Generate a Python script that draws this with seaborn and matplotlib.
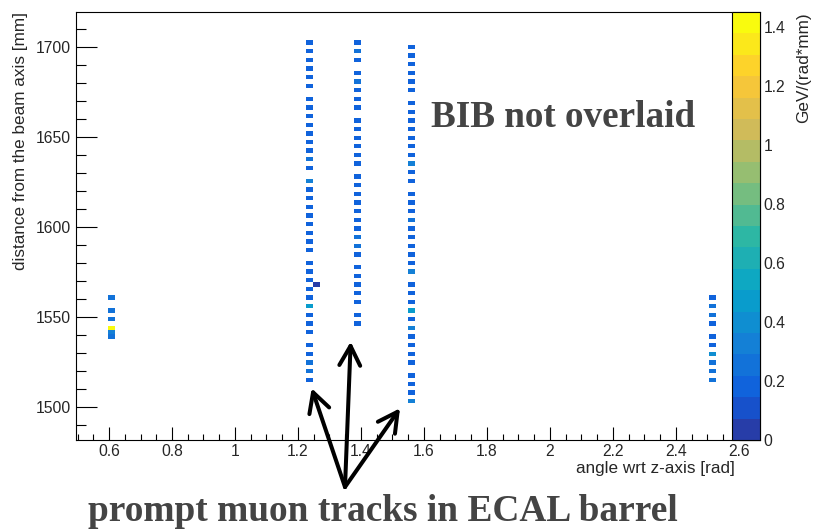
import numpy as np
import pandas as pd
import matplotlib
matplotlib.use("Agg")
import matplotlib.pyplot as plt
import seaborn as sns
from matplotlib.colors import LinearSegmentedColormap, ListedColormap
from matplotlib.patches import FancyArrowPatch, ArrowStyle
from matplotlib.ticker import MultipleLocator, FuncFormatter

# ---------------- data ----------------
colA_angle = 0.609
colA_r = [1560.8, 1553.6, 1548.8, 1544.0, 1541.6, 1539.2]
colA_e = [0.25, 0.22, 0.22, 1.42, 0.30, 0.25]

colB_angle = 1.238
colB_r = [1702.4, 1697.6, 1692.8, 1688.0, 1683.2, 1678.4,
          1671.2, 1666.4, 1661.6, 1656.8, 1652.0, 1647.2, 1642.4, 1637.6, 1632.8,
          1625.6, 1620.8, 1616.0, 1611.2, 1606.4, 1601.6, 1596.8, 1592.0, 1587.2,
          1580.0, 1575.2, 1570.4, 1565.6, 1560.8, 1556.0, 1551.2, 1546.4, 1541.6,
          1534.4, 1529.6, 1524.8, 1520.0, 1515.2]
colB_e = [0.19, 0.20, 0.19, 0.19, 0.18, 0.19,
          0.19, 0.19, 0.19, 0.19, 0.18, 0.19, 0.19, 0.28, 0.19,
          0.30, 0.19, 0.19, 0.19, 0.19, 0.19, 0.19, 0.19, 0.19,
          0.19, 0.19, 0.19, 0.18, 0.19, 0.50, 0.19, 0.19, 0.19,
          0.19, 0.19, 0.27, 0.27, 0.19]

colB2_angle = 1.260
colB2_r = [1568.0]
colB2_e = [0.06]

colC_angle = 1.386
colC_r = [1702.4, 1697.6, 1692.8,
          1685.6, 1680.8, 1676.0, 1671.2, 1666.4,
          1659.2, 1654.4, 1649.6, 1644.8, 1640.0, 1635.2,
          1628.0, 1623.2, 1618.4, 1613.6, 1608.8, 1604.0, 1599.2, 1594.4, 1589.6, 1584.8,
          1577.6, 1572.8, 1568.0, 1563.2, 1558.4,
          1551.2, 1546.4]
colC_e = [0.19, 0.28, 0.19,
          0.19, 0.28, 0.19, 0.19, 0.19,
          0.19, 0.19, 0.19, 0.19, 0.19, 0.19,
          0.19, 0.19, 0.19, 0.19, 0.19, 0.19, 0.19, 0.26, 0.26, 0.19,
          0.19, 0.19, 0.19, 0.19, 0.19,
          0.19, 0.19]

colD_angle = 1.556
colD_r = [1700.0, 1695.2, 1690.4, 1685.6, 1680.8, 1676.0,
          1668.8, 1664.0, 1659.2, 1654.4, 1649.6, 1644.8, 1640.0, 1635.2, 1630.4, 1625.6,
          1618.4, 1613.6, 1608.8, 1604.0, 1599.2, 1594.4, 1589.6, 1584.8, 1580.0, 1575.2,
          1568.0, 1563.2, 1558.4, 1553.6, 1548.8, 1544.0, 1539.2, 1534.4, 1529.6, 1524.8,
          1517.6, 1512.8, 1508.0, 1503.2]
colD_e = [0.18, 0.19, 0.19, 0.19, 0.19, 0.19,
          0.19, 0.19, 0.19, 0.19, 0.19, 0.19, 0.19, 0.30, 0.19, 0.19,
          0.19, 0.19, 0.19, 0.28, 0.19, 0.19, 0.19, 0.19, 0.19, 0.30,
          0.19, 0.19, 0.19, 0.45, 0.19, 0.30, 0.19, 0.19, 0.19, 0.19,
          0.19, 0.19, 0.19, 0.30]

colE_angle = 2.517
colE_r = [1560.8, 1556.0, 1551.2, 1546.4, 1539.2, 1534.4, 1529.6, 1524.8, 1520.0, 1515.2]
colE_e = [0.17, 0.22, 0.22, 0.20, 0.20, 0.20, 0.40, 0.22, 0.25, 0.25]

x_ticks = [0.6, 0.8, 1.0, 1.2, 1.4, 1.6, 1.8, 2.0, 2.2, 2.4, 2.6]
y_ticks = [1500, 1550, 1600, 1650, 1700]
z_ticks = [0, 0.2, 0.4, 0.6, 0.8, 1.0, 1.2, 1.4]
z_max = 1.45
n_levels = 20

# ROOT kBird palette
bird_stops = [0.0, 0.125, 0.25, 0.375, 0.5, 0.625, 0.75, 0.875, 1.0]
bird_r = [0.2082, 0.0592, 0.0780, 0.0232, 0.1802, 0.5301, 0.8186, 0.9956, 0.9764]
bird_g = [0.1664, 0.3599, 0.5041, 0.6419, 0.7178, 0.7492, 0.7328, 0.7862, 0.9832]
bird_b = [0.5293, 0.8684, 0.8385, 0.7914, 0.6425, 0.4662, 0.3499, 0.1968, 0.0539]

# ---------------- build table ----------------
frames = []
for ang, rr, ee in [(colA_angle, colA_r, colA_e), (colB_angle, colB_r, colB_e),
                    (colB2_angle, colB2_r, colB2_e), (colC_angle, colC_r, colC_e),
                    (colD_angle, colD_r, colD_e), (colE_angle, colE_r, colE_e)]:
    frames.append(pd.DataFrame({"angle": ang, "r": rr, "edep": ee}))
df = pd.concat(frames, ignore_index=True)

x_edges = np.arange(0.488, 2.72, 0.02168)
y_edges = np.arange(1480.4, 1722.0, 2.4)

bird = LinearSegmentedColormap.from_list(
    "bird", list(zip(bird_stops, zip(bird_r, bird_g, bird_b))))
cmap = ListedColormap([bird((i + 0.99) / n_levels) for i in range(n_levels)])

# ---------------- figure ----------------
sns.set_theme(style="white")
plt.rcParams['font.family'] = ['Liberation Sans', 'DejaVu Sans']

W, H = 815, 530
fig = plt.figure(figsize=(W / 100, H / 100), dpi=100, facecolor="white")


def fx(px):
    return px / W


def fy(py):
    return 1 - py / H


ax = fig.add_axes([fx(76), fy(440), fx(760) - fx(76), fy(12) - fy(440)])
cax = fig.add_axes([fx(732), fy(440), fx(760) - fx(732), fy(12) - fy(440)])

sns.histplot(data=df, x="angle", y="r", weights="edep",
             bins=(x_edges, y_edges), cmap=cmap, cbar=False, ax=ax)
mesh = ax.collections[0]
mesh.set_cmap(cmap)
mesh.set_clim(0, z_max)

ax.set_xlim(0.4952, 2.667)
ax.set_ylim(1481.7, 1719.4)
ax.grid(False)
ax.set_facecolor("white")
for s in ax.spines.values():
    s.set_color("black")
    s.set_linewidth(0.8)

fs = 11.3
fs_title = 12.3
ax.set_xticks(x_ticks)
ax.set_yticks(y_ticks)
ax.xaxis.set_minor_locator(MultipleLocator(0.05))
ax.yaxis.set_minor_locator(MultipleLocator(10))
ax.xaxis.set_major_formatter(FuncFormatter(lambda v, p: f"{v:g}"))
ax.yaxis.set_major_formatter(FuncFormatter(lambda v, p: f"{v:g}"))
ax.tick_params(axis="x", which="major", direction="in", length=9.2, width=0.8,
               color="black", pad=3.2, labelsize=fs, bottom=True, top=False)
ax.tick_params(axis="x", which="minor", direction="in", length=4.6, width=0.8,
               color="black", bottom=True, top=False)
ax.tick_params(axis="y", which="major", direction="in", length=14.8, width=0.8,
               color="black", pad=3.8, labelsize=fs, left=True, right=False)
ax.tick_params(axis="y", which="minor", direction="in", length=7.4, width=0.8,
               color="black", left=True, right=False)

ax.set_xlabel("angle wrt z-axis [rad]", fontsize=fs_title, loc="right")
ax.xaxis.set_label_coords((735 - 76) / 684, -(461.5 - 440) / 428)
ax.set_ylabel("distance from the beam axis [mm]", fontsize=fs_title, loc="top")
ax.yaxis.set_label_coords((28 - 76) / 684, 1.0)

cb = fig.colorbar(mesh, cax=cax)
cb.set_ticks(z_ticks)
cb.ax.yaxis.set_major_formatter(FuncFormatter(lambda v, p: f"{v:g}"))
cb.minorticks_off()
cb.outline.set_linewidth(0.8)
cb.outline.set_edgecolor("black")
cax.tick_params(axis="y", direction="in", length=14.8, width=0.8, color="black",
                pad=2.5, labelsize=fs, right=True, left=False)
cb.set_label("GeV/(rad*mm)", fontsize=fs_title, loc="top")
cax.yaxis.set_label_coords((796 - 732) / 28, 1.0)

# ---------------- annotations ----------------
txt_color = "#444444"
fig.text(fx(431), fy(127.3), "BIB not overlaid", family=["Liberation Serif"],
         weight="bold", size=26.7, color=txt_color, ha="left", va="baseline")
fig.text(fx(88), fy(521), "prompt muon tracks in ECAL barrel",
         family=["Liberation Serif"], weight="bold", size=26.9, color=txt_color,
         ha="left", va="baseline")

tail = (fx(345), fy(487))
heads = [(fx(311.7), fy(388.3)), (fx(350.7), fy(341.7)), (fx(400), fy(408.3))]
for hd in heads:
    arr = FancyArrowPatch(posA=tail, posB=hd, transform=fig.transFigure,
                          arrowstyle=ArrowStyle("->", head_length=14, head_width=7.5),
                          mutation_scale=1, lw=2.9, color="black",
                          shrinkA=0, shrinkB=0, zorder=10)
    fig.add_artist(arr)

fig.savefig("out.png", dpi=100, facecolor="white")
